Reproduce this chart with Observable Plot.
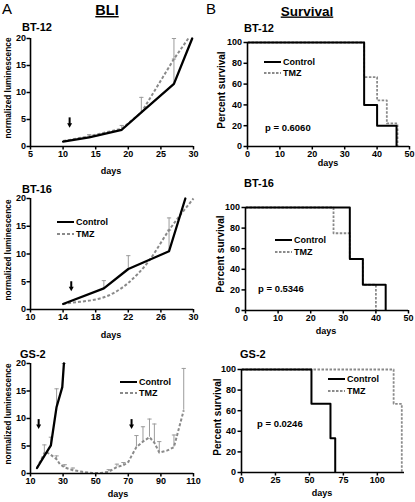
<!DOCTYPE html>
<html><head><meta charset="utf-8">
<script src="https://cdn.jsdelivr.net/npm/d3@7"></script>
<script src="https://cdn.jsdelivr.net/npm/@observablehq/plot@0.6"></script>
<style>
body{margin:0;background:#fff;}
#root{position:relative;width:415px;height:502px;overflow:hidden;background:#fff;font-family:"Liberation Sans",Arial,sans-serif;}
.panel{position:absolute;}
#overlay{position:absolute;left:0;top:0;pointer-events:none;}
</style></head><body><div id="root"></div>
<script>
// ---------- shared ticks ----------
const lumDomain = [0, 20];
const lumTicks = [0, 5, 10, 15, 20];
const survDomain = [0, 100];
const survTicks = [0, 20, 40, 60, 80, 100];

// ---------- BT-12 BLI ----------
const bt12XDomain = [5, 30];
const bt12XTicks = [5, 10, 15, 20, 25, 30];
const bt12CtrlDays = [10, 14, 19, 22, 27, 29.8];
const bt12CtrlLum = [0.9, 1.7, 3.1, 6.3, 11.6, 20];
const bt12TmzDays = [10, 14, 19, 22, 27, 29.2];
const bt12TmzLum = [1, 1.9, 3.3, 6.3, 16.2, 20];
const bt12ErrDays = [14, 19, 22, 27, 27];
const bt12ErrLow = [1.8, 3.2, 6.3, 11.6, 16.2];
const bt12ErrHigh = [2.2, 3.9, 9.1, 16.2, 20];
const bt12ArrowDays = [11];
const bt12ArrowTop = [5.3];
const bt12ArrowBottom = [4.0];

// ---------- BT-16 BLI ----------
const bt16XDomain = [10, 30];
const bt16XTicks = [10, 14, 18, 22, 26, 30];
const bt16CtrlDays = [14, 19, 22, 27, 29];
const bt16CtrlLum = [1, 3.8, 7.3, 10.5, 20];
const bt16TmzDays = [14, 15, 19, 22, 24.5, 27, 30];
const bt16TmzLum = [1, 1.2, 2.2, 4.8, 8.7, 14.3, 20];
const bt16ErrDays = [19, 22, 27, 27];
const bt16ErrLow = [3.8, 7.3, 10.5, 14.3];
const bt16ErrHigh = [5.2, 9.7, 14.3, 16.5];
const bt16ArrowDays = [15];
const bt16ArrowTop = [5.0];
const bt16ArrowBottom = [3.8];

// ---------- GS-2 BLI ----------
const gs2XDomain = [10, 110];
const gs2XTicks = [10, 30, 50, 70, 90, 110];
const gs2CtrlDays = [14, 18.5, 22.5, 26, 29.5, 30.5];
const gs2CtrlLum = [1, 3.2, 5.1, 12.1, 15.7, 20];
const gs2TmzDays = [14, 19, 22, 26, 28, 31, 36, 42, 48, 53, 58, 63, 67, 70, 72, 75, 79, 83, 86, 89, 94, 98, 104];
const gs2TmzLum = [1, 4.0, 3.5, 2.6, 1.7, 1.1, 0.6, 0.3, 0.1, 0.1, 0.3, 1.2, 1.5, 2.1, 3.2, 4.8, 5.8, 6.6, 5.6, 3.8, 4.2, 4.8, 11.5];
const gs2ErrDays = [18.5, 22.5, 26, 30.5, 26, 31, 36, 58, 63, 67, 75, 79, 83, 86, 89, 98, 104];
const gs2ErrLow = [3.2, 5.1, 12.1, 19.7, 2.6, 1.1, 0.6, 0.3, 1.2, 1.5, 4.8, 5.8, 6.6, 5.6, 3.8, 4.8, 11.5];
const gs2ErrHigh = [5.2, 6.6, 15.4, 20, 3.2, 1.6, 1.0, 0.7, 1.7, 2.0, 6.9, 8.5, 9.9, 9.0, 5.8, 7.0, 19.1];
const gs2ArrowDays = [15, 72];
const gs2ArrowTop = [9.8, 9.8];
const gs2ArrowBottom = [8.6, 8.6];

// ---------- Survival ----------
const bt12SurvXDomain = [0, 50];
const bt16SurvXDomain = [0, 50];
const survXTicks50 = [0, 10, 20, 30, 40, 50];
const gs2SurvXDomain = [0, 120];
const gs2SurvXTicks = [0, 25, 50, 75, 100];

const bt12SurvCtrlDays = [0, 36, 40, 46];
const bt12SurvCtrlPct = [100, 40, 20, 0];
const bt12SurvTmzDays = [0, 36, 40, 43, 46.3];
const bt12SurvTmzPct = [100, 66.7, 44.4, 22.2, 0];

const bt16SurvCtrlDays = [0, 32, 36, 43];
const bt16SurvCtrlPct = [100, 50, 25, 0];
const bt16SurvTmzDays = [0, 27, 32, 36, 40];
const bt16SurvTmzPct = [100, 75, 50, 25, 0];

const gs2SurvCtrlDays = [0, 51.5, 65.5, 69];
const gs2SurvCtrlPct = [100, 66.7, 33.3, 0];
const gs2SurvTmzDays = [0, 112, 118];
const gs2SurvTmzPct = [100, 66.7, 0];

const pValues = ["p = 0.6060", "p = 0.5346", "p = 0.0246"];
const seriesNames = ["Control", "TMZ"];
const cellLines = ["BT-12", "BT-16", "GS-2"];

// ---------- styling ----------
const FONT = '"Liberation Sans", Arial, Helvetica, sans-serif';
const TMZ_COLOR = "#8a8a8a";
const ERR_COLOR = "#9c9c9c";
const capSymbol = {draw(ctx, size){ const w = Math.sqrt(size); ctx.moveTo(-w, 0); ctx.lineTo(w, 0); }};
const downTriangle = {draw(ctx, size){ const s = Math.sqrt(size); ctx.moveTo(0, s * 0.55); ctx.lineTo(-s * 0.5, -s * 0.35); ctx.lineTo(s * 0.5, -s * 0.35); ctx.closePath(); }};
const zip = (xs, ys) => xs.map((x, i) => ({x, y: ys[i]}));
const plotStyle = {fontFamily: FONT, fontSize: "9px", fontWeight: "bold", background: "transparent", overflow: "visible", color: "#000"};

function blPlot(c){
  const ctrl = zip(c.ctrlDays, c.ctrlLum);
  const tmz = zip(c.tmzDays, c.tmzLum);
  const err = c.errDays.map((d, i) => ({x: d, lo: c.errLow[i], hi: c.errHigh[i]}));
  const arr = c.arrowDays.map((d, i) => ({x: d, y1: c.arrowTop[i], y2: c.arrowBottom[i]}));
  return Plot.plot({
    width: c.width, height: c.height,
    marginTop: c.mt, marginBottom: c.mb, marginLeft: c.ml, marginRight: c.mr,
    style: plotStyle,
    x: {domain: c.xDomain, label: null},
    y: {domain: lumDomain, label: null},
    marks: [
      Plot.axisX({ticks: c.xTicks, tickSize: 3.5, tickPadding: 1, strokeWidth: 1.5, label: null}),
      Plot.axisY({ticks: lumTicks, tickSize: 3.5, tickPadding: 1, strokeWidth: 1.5, label: null}),
      Plot.ruleX(err, {x: "x", y1: "lo", y2: "hi", stroke: ERR_COLOR, strokeWidth: 1}),
      Plot.dot(err, {x: "x", y: "hi", symbol: capSymbol, r: 1.2, fill: "none", stroke: ERR_COLOR, strokeWidth: 1}),
      Plot.line(tmz, {x: "x", y: "y", stroke: TMZ_COLOR, strokeWidth: 2, strokeDasharray: "3,2", strokeLinecap: "butt", curve: c.tmzCurve || "linear"}),
      Plot.line(ctrl, {x: "x", y: "y", stroke: "#000", strokeWidth: 2.3}),
      Plot.ruleX(arr, {x: "x", y1: "y1", y2: "y2", stroke: "#000", strokeWidth: 2}),
      Plot.dot(arr, {x: "x", y: "y2", symbol: downTriangle, r: 2.8, fill: "#000", stroke: "none"}),
      Plot.ruleY([lumDomain[0]], {stroke: "#000", strokeWidth: 1.6}),
      Plot.ruleX([c.xDomain[0]], {stroke: "#000", strokeWidth: 1.6})
    ]
  });
}

function survPlot(c){
  const ctrl = zip(c.ctrlDays, c.ctrlPct);
  const tmz = zip(c.tmzDays, c.tmzPct);
  return Plot.plot({
    width: c.width, height: c.height,
    marginTop: c.mt, marginBottom: c.mb, marginLeft: c.ml, marginRight: c.mr,
    style: plotStyle,
    x: {domain: c.xDomain, label: null},
    y: {domain: survDomain, label: null},
    marks: [
      Plot.axisX({ticks: c.xTicks, tickSize: 3.5, tickPadding: 1, strokeWidth: 1.5, label: null}),
      Plot.axisY({ticks: survTicks, tickSize: 3.5, tickPadding: 2, strokeWidth: 1.5, label: null}),
      Plot.line(tmz, {x: "x", y: "y", stroke: TMZ_COLOR, strokeWidth: 1.8, strokeDasharray: "2.5,1.5", strokeLinecap: "butt", curve: "step-after"}),
      Plot.line(ctrl, {x: "x", y: "y", stroke: "#000", strokeWidth: 2, strokeLinecap: "butt", curve: "step-after"}),
      Plot.ruleY([survDomain[0]], {stroke: "#000", strokeWidth: 1.6}),
      Plot.ruleX([c.xDomain[0]], {stroke: "#000", strokeWidth: 1.6})
    ]
  });
}

const root = document.getElementById("root");
function place(el, left, top){
  const d = document.createElement("div");
  d.className = "panel";
  d.style.left = left + "px"; d.style.top = top + "px";
  d.appendChild(el); root.appendChild(d);
}

// A panels: frame x 30..193
place(blPlot({width: 205, height: 160, mt: 18, mb: 34, ml: 30, mr: 12,
  xDomain: bt12XDomain, xTicks: bt12XTicks,
  ctrlDays: bt12CtrlDays, ctrlLum: bt12CtrlLum, tmzDays: bt12TmzDays, tmzLum: bt12TmzLum,
  errDays: bt12ErrDays, errLow: bt12ErrLow, errHigh: bt12ErrHigh,
  arrowDays: bt12ArrowDays, arrowTop: bt12ArrowTop, arrowBottom: bt12ArrowBottom}), 0, 20);
place(blPlot({width: 205, height: 160, mt: 18, mb: 31, ml: 30, mr: 12,
  xDomain: bt16XDomain, xTicks: bt16XTicks,
  ctrlDays: bt16CtrlDays, ctrlLum: bt16CtrlLum, tmzDays: bt16TmzDays, tmzLum: bt16TmzLum, tmzCurve: "monotone-x",
  errDays: bt16ErrDays, errLow: bt16ErrLow, errHigh: bt16ErrHigh,
  arrowDays: bt16ArrowDays, arrowTop: bt16ArrowTop, arrowBottom: bt16ArrowBottom}), 0, 180);
place(blPlot({width: 205, height: 157, mt: 18, mb: 29, ml: 30, mr: 12,
  xDomain: gs2XDomain, xTicks: gs2XTicks,
  ctrlDays: gs2CtrlDays, ctrlLum: gs2CtrlLum, tmzDays: gs2TmzDays, tmzLum: gs2TmzLum,
  errDays: gs2ErrDays, errLow: gs2ErrLow, errHigh: gs2ErrHigh,
  arrowDays: gs2ArrowDays, arrowTop: gs2ArrowTop, arrowBottom: gs2ArrowBottom}), 0, 345);

// B panels
place(survPlot({width: 210, height: 160, mt: 22, mb: 34, ml: 42, mr: 6,
  xDomain: bt12SurvXDomain, xTicks: survXTicks50,
  ctrlDays: bt12SurvCtrlDays, ctrlPct: bt12SurvCtrlPct, tmzDays: bt12SurvTmzDays, tmzPct: bt12SurvTmzPct}), 205, 20);
place(survPlot({width: 210, height: 160, mt: 27, mb: 30, ml: 40, mr: 7,
  xDomain: bt16SurvXDomain, xTicks: survXTicks50,
  ctrlDays: bt16SurvCtrlDays, ctrlPct: bt16SurvCtrlPct, tmzDays: bt16SurvTmzDays, tmzPct: bt16SurvTmzPct}), 205, 180);
place(survPlot({width: 210, height: 157, mt: 24, mb: 30, ml: 36, mr: 11,
  xDomain: gs2SurvXDomain, xTicks: gs2SurvXTicks,
  ctrlDays: gs2SurvCtrlDays, ctrlPct: gs2SurvCtrlPct, tmzDays: gs2SurvTmzDays, tmzPct: gs2SurvTmzPct}), 205, 345);

// ---------- overlay: headings, titles, axis labels, legends, p-values ----------
const svg = d3.select(root).append("svg").attr("id", "overlay")
  .attr("width", 415).attr("height", 502).attr("font-family", FONT);
function txt(x, y, s, size, opts = {}){
  const t = svg.append("text").attr("x", x).attr("y", y).attr("font-size", size)
    .attr("font-weight", opts.weight || "bold").attr("fill", "#000")
    .attr("text-anchor", opts.anchor || "start").text(s);
  if (opts.rotate) t.attr("transform", `rotate(-90,${x},${y})`);
  if (opts.underline) t.attr("text-decoration", "underline");
  return t;
}
txt(2, 14, "A", 15, {weight: "normal"});
txt(206, 14, "B", 15, {weight: "normal"});
txt(107, 15, "BLI", 14.5, {anchor: "middle", underline: true});
txt(307, 15.5, "Survival", 13.5, {anchor: "middle", underline: true});

// panel titles
[[22, 31], [22, 193], [20, 358]].forEach(([x, y], i) => txt(x, y, cellLines[i], 11));
[[244, 32], [244, 187], [240, 358]].forEach(([x, y], i) => txt(x, y, cellLines[i], 11));

// y labels
[88, 250, 414].forEach(y => txt(11, y, "normalized luminescence", 8.3, {anchor: "middle", rotate: true}));
[[225, 90], [224, 254], [221, 417]].forEach(([x, y]) => txt(x, y, "Percent survival", 10, {anchor: "middle", rotate: true}));
// x labels
[[111, 174], [111, 338], [118, 497], [328, 166], [326, 334], [322, 496]].forEach(([x, y]) => txt(x, y, "days", 9, {anchor: "middle"}));

// legends
function legend(x, y0, y1, dash, tmzW){
  svg.append("line").attr("x1", x).attr("x2", x + 17).attr("y1", y0).attr("y2", y0).attr("stroke", "#000").attr("stroke-width", 2);
  svg.append("line").attr("x1", x).attr("x2", x + 17).attr("y1", y1).attr("y2", y1).attr("stroke", TMZ_COLOR).attr("stroke-width", tmzW).attr("stroke-dasharray", dash);
  txt(x + 19, y0 + 3.3, seriesNames[0], 9);
  txt(x + 19, y1 + 3.3, seriesNames[1], 9);
}
legend(57, 222, 234, "3,2", 2);
legend(120, 382, 393, "3,2", 2);
legend(264, 62, 73, "2.5,1.5", 1.8);
legend(275, 240, 252, "2.5,1.5", 1.8);
legend(328, 379, 391, "2.5,1.5", 1.8);

// p-values
[[265, 130.5], [258, 291.5], [257, 426.5]].forEach(([x, y], i) => txt(x, y, pValues[i], 9.5));
</script></body></html>
